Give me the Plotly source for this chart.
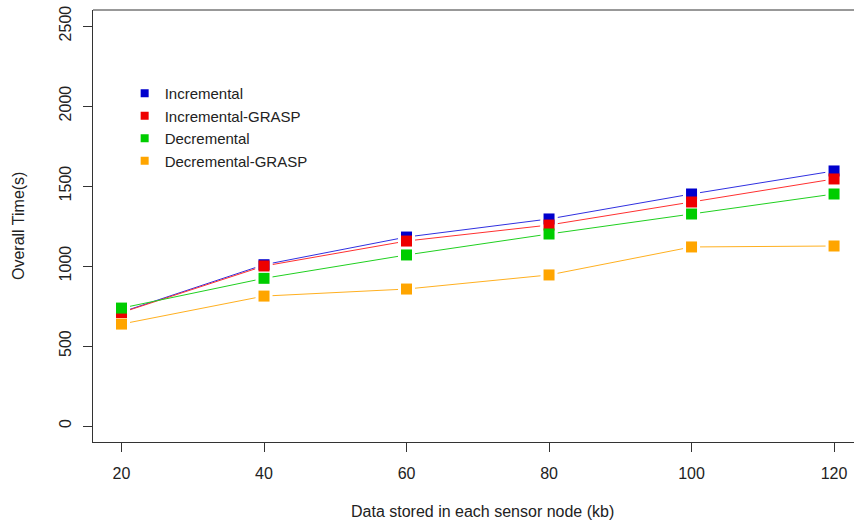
import plotly.graph_objects as go

data_kb = [20, 40, 60, 80, 100, 120]
incremental = [712, 1008, 1181, 1294, 1450, 1594]
incremental_grasp = [709, 1000, 1156, 1256, 1400, 1544]
decremental = [737, 923, 1069, 1200, 1325, 1450]
decremental_grasp = [637, 812, 856, 944, 1119, 1125]

x_ticks = [20, 40, 60, 80, 100, 120]
y_ticks = [0, 500, 1000, 1500, 2000, 2500]

names = ["Incremental", "Incremental-GRASP", "Decremental", "Decremental-GRASP"]
series = [incremental, incremental_grasp, decremental, decremental_grasp]
marker_colors = ["#0000CD", "#EE0000", "#00CD00", "#FFA500"]
line_colors = ["#3030E0", "#FF3030", "#20D020", "#FFB020"]

fig = go.Figure()
# lines
for s, lc in zip(series, line_colors):
    fig.add_trace(go.Scatter(x=data_kb, y=s, mode="lines", line=dict(color=lc, width=1),
                             showlegend=False, hoverinfo="skip"))
# white halos to make gaps around points
for s in series:
    fig.add_trace(go.Scatter(x=data_kb, y=s, mode="markers",
                             marker=dict(symbol="square", size=17, color="white"),
                             showlegend=False, hoverinfo="skip"))
# coloured points
for s, mc, n in zip(series, marker_colors, names):
    fig.add_trace(go.Scatter(x=data_kb, y=s, mode="markers", name=n,
                             marker=dict(symbol="square", size=11, color=mc),
                             showlegend=False))
# legend entries
for mc, n in zip(marker_colors, names):
    fig.add_trace(go.Scatter(x=[None], y=[None], mode="markers", name=n,
                             marker=dict(symbol="square", size=8, color=mc)))

font = dict(family="Liberation Sans, Arial, sans-serif", size=16, color="#222222")

fig.update_layout(
    width=854, height=525,
    margin=dict(l=93, r=0, t=10, b=83),
    paper_bgcolor="white", plot_bgcolor="white",
    font=font,
    showlegend=True,
    legend=dict(x=0.0416, y=0.845, xanchor="left", yanchor="top",
                bgcolor="rgba(0,0,0,0)", font=dict(size=15, color="#222222"),
                tracegroupgap=0),
    xaxis=dict(range=[16, 122.8], tickvals=x_ticks, ticks="outside", ticklen=9,
               tickcolor="#333", showline=True, linecolor="#333", linewidth=1,
               showgrid=False, zeroline=False, ticklabelstandoff=8, automargin=False,
               ticklabeloverflow="allow"),
    yaxis=dict(range=[-100, 2600], tickvals=y_ticks, ticks="outside", ticklen=9,
               tickcolor="#333", showline=True, linecolor="#333", linewidth=1,
               showgrid=False, zeroline=False, tickangle=-90, ticklabelstandoff=6,
               automargin=False, ticklabeloverflow="allow"),
    annotations=[
        dict(text="Data stored in each sensor node (kb)", xref="paper", yref="paper",
             x=0.512, y=0, yshift=-69, showarrow=False, xanchor="center", yanchor="middle",
             font=font),
        dict(text="Overall Time(s)", xref="paper", yref="paper", x=0, xshift=-75,
             y=0.5, showarrow=False, textangle=-90, xanchor="center", yanchor="middle",
             font=font),
    ],
    shapes=[dict(type="line", xref="paper", yref="paper", x0=0, x1=1, y0=1, y1=1,
                 line=dict(color="#333", width=1))],
)

fig.write_html("out.html", config={"displayModeBar": False},
               post_script="document.body.style.margin='0px';document.body.style.overflow='hidden';")
